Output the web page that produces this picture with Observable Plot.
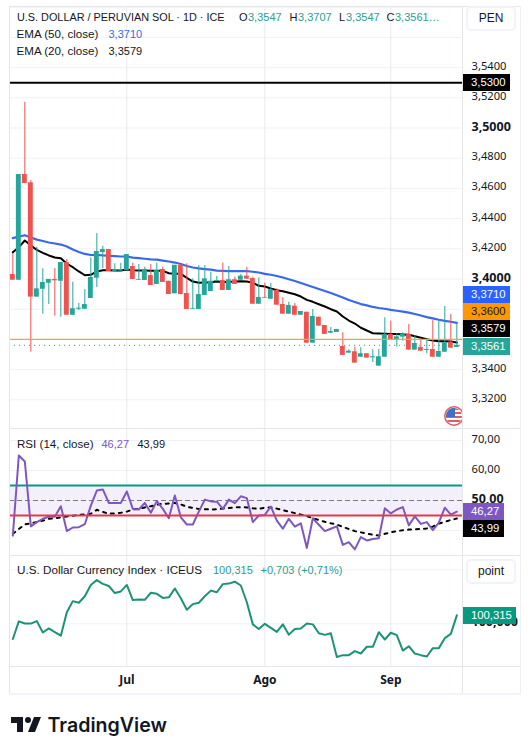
<!DOCTYPE html>
<html>
<head>
<meta charset="utf-8">
<script src="https://cdn.jsdelivr.net/npm/d3@7"></script>
<script src="https://cdn.jsdelivr.net/npm/@observablehq/plot@0.6"></script>
<style>
html,body{margin:0;padding:0;background:#fff;overflow:hidden}
#chart{position:relative;width:530px;height:741px;overflow:hidden;font-family:"Liberation Sans",sans-serif;color:#131722}
#chart svg.pane,#chart>figure{position:absolute;left:0;margin:0}
.t{position:absolute;white-space:pre;line-height:14px;font-size:11.6px}
.tag{position:absolute;left:463px;color:#fff;font-size:11.3px;line-height:17px;height:17px;padding-left:8px;box-sizing:border-box}
.ln{position:absolute;background:#e4e6ec}
.btn{position:absolute;left:466px;width:50px;height:25px;border:2px solid #f0f3fa;border-radius:5px;box-sizing:border-box;text-align:center;font-size:12px;line-height:21px;background:#fff}
</style>
</head>
<body>
<div id="chart"></div>
<script>
const opens=[3.4030,3.3992,3.4692,3.4637,3.3880,3.3932,3.3972,3.3997,3.3985,3.4109,3.3760,3.3800,3.3800,3.3871,3.4005,3.4175,3.4195,3.4050,3.4052,3.4056,3.4083,3.3992,3.3990,3.4023,3.3964,3.4063,3.3985,3.3902,3.4091,3.3904,3.3798,3.3798,3.3891,3.3917,3.3983,3.3990,3.3924,3.3995,3.3992,3.4019,3.4003,3.3833,3.3878,3.3866,3.3924,3.3831,3.3767,3.3820,3.3760,3.3780,3.3575,3.3747,3.3692,3.3641,3.3646,3.3553,3.3509,3.3518,3.3482,3.3505,3.3478,3.3423,3.3482,3.3633,3.3599,3.3615,3.3633,3.3529,3.3547,3.3527,3.3533,3.3482,3.3515,3.3582,3.3547];
const closes=[3.3992,3.4692,3.4632,3.3880,3.3935,3.3977,3.3997,3.3988,3.4109,3.3760,3.3803,3.3807,3.3831,3.4010,3.4182,3.4195,3.4050,3.4056,3.4058,3.4162,3.3997,3.3997,3.4061,3.3957,3.4056,3.3977,3.3897,3.4091,3.3897,3.3798,3.3803,3.3897,3.4001,3.3985,3.3990,3.3924,3.3995,3.3964,3.4019,3.3999,3.3833,3.3878,3.3873,3.3929,3.3827,3.3767,3.3825,3.3760,3.3785,3.3575,3.3752,3.3688,3.3633,3.3652,3.3666,3.3494,3.3522,3.3443,3.3505,3.3476,3.3485,3.3485,3.3633,3.3599,3.3617,3.3633,3.3529,3.3573,3.3522,3.3533,3.3482,3.3520,3.3578,3.3542,3.3561];
const highs=[3.4169,3.4692,3.5170,3.4652,3.4211,3.4068,3.3997,3.4070,3.4109,3.4129,3.3979,3.3838,3.3930,3.4140,3.4301,3.4217,3.4195,3.4101,3.4103,3.4162,3.4105,3.4096,3.4078,3.4096,3.4105,3.4078,3.3985,3.4091,3.4095,3.4101,3.4001,3.4089,3.4089,3.4045,3.4017,3.4105,3.4083,3.4012,3.4030,3.4078,3.4012,3.4008,3.3972,3.3972,3.3935,3.3876,3.3846,3.3838,3.3785,3.3780,3.3798,3.3747,3.3692,3.3679,3.3666,3.3644,3.3531,3.3549,3.3545,3.3505,3.3531,3.3533,3.3743,3.3721,3.3639,3.3644,3.3699,3.3624,3.3604,3.3593,3.3725,3.3721,3.3818,3.3765,3.3707];
const lows=[3.3992,3.3990,3.4632,3.3515,3.3880,3.3767,3.3831,3.3754,3.3747,3.3760,3.3760,3.3791,3.3800,3.3871,3.3944,3.4068,3.4050,3.4050,3.4052,3.4056,3.3997,3.3992,3.3990,3.3957,3.3964,3.3977,3.3897,3.3902,3.3897,3.3798,3.3798,3.3798,3.3891,3.3917,3.3983,3.3924,3.3924,3.3964,3.3992,3.3999,3.3833,3.3833,3.3873,3.3866,3.3827,3.3767,3.3767,3.3760,3.3760,3.3575,3.3575,3.3688,3.3633,3.3641,3.3646,3.3494,3.3509,3.3443,3.3482,3.3476,3.3447,3.3423,3.3482,3.3599,3.3549,3.3588,3.3529,3.3529,3.3522,3.3505,3.3482,3.3482,3.3515,3.3542,3.3547];
const ema50=[3.4271,3.4281,3.4290,3.4275,3.4261,3.4252,3.4242,3.4235,3.4228,3.4215,3.4195,3.4179,3.4166,3.4159,3.4159,3.4156,3.4154,3.4152,3.4149,3.4149,3.4142,3.4138,3.4134,3.4130,3.4128,3.4122,3.4116,3.4109,3.4099,3.4086,3.4076,3.4070,3.4066,3.4062,3.4056,3.4054,3.4052,3.4052,3.4053,3.4052,3.4048,3.4043,3.4034,3.4028,3.4020,3.4010,3.3998,3.3987,3.3974,3.3960,3.3947,3.3934,3.3921,3.3907,3.3893,3.3878,3.3861,3.3848,3.3834,3.3825,3.3815,3.3808,3.3803,3.3796,3.3790,3.3784,3.3777,3.3768,3.3758,3.3748,3.3739,3.3730,3.3723,3.3717,3.3710];
const ema20=[3.4177,3.4211,3.4255,3.4222,3.4193,3.4173,3.4156,3.4142,3.4138,3.4101,3.4078,3.4050,3.4025,3.4028,3.4050,3.4058,3.4058,3.4056,3.4056,3.4063,3.4058,3.4056,3.4056,3.4054,3.4054,3.4054,3.4038,3.4034,3.4034,3.4008,3.3983,3.3975,3.3977,3.3979,3.3983,3.3981,3.3981,3.3983,3.3985,3.3983,3.3975,3.3955,3.3950,3.3937,3.3926,3.3919,3.3909,3.3899,3.3884,3.3862,3.3849,3.3833,3.3818,3.3800,3.3785,3.3752,3.3725,3.3705,3.3677,3.3659,3.3641,3.3639,3.3637,3.3635,3.3635,3.3633,3.3631,3.3621,3.3611,3.3601,3.3593,3.3588,3.3588,3.3586,3.3579];
const rsi=[38.3,65,63,41.4,42.8,43.9,44.6,44.6,48.1,39.8,41,41.1,42.1,48.3,53.3,53.7,49.2,49.2,49.2,53,47.2,47,49.2,45.9,49.8,47.2,44.1,51.7,44.4,42,42,46.3,50.3,49.7,49.6,47.2,50.3,49.1,51.4,50.8,42.8,45,45.2,48,43.3,40.6,43.9,41.3,42.4,34.2,44.1,41.9,39.8,40.6,41.4,35.2,36.1,33.7,37.8,36.7,37.2,37.4,47.4,45.7,47,47.8,41.7,44.7,42.2,42.8,40.1,42.6,47.6,45.3,46.27];
const rsiMa=[38.9,40.5,42,42.4,42.8,43.3,43.9,44.1,44.4,44.7,44.9,45.2,45.4,45.6,46.9,46.2,45.6,45.7,45.9,46.3,47,47.2,47.7,48.1,48.6,48.9,49,49.2,48.7,47.9,47.5,47.2,47.1,47,47.1,47.3,47.5,47.7,47.8,47.7,47.4,47.2,47.6,47.7,47.3,46.8,46.3,45.8,45.3,44.8,44.1,43.5,42.9,42.4,42,41.2,40.5,39.8,39.4,38.9,38.6,38.3,38.9,39.4,39.8,40.1,40.3,40.4,40.5,40.7,41.3,42.3,42.9,43.5,43.99];
const dxy=[99.44,100.09,100.01,100.01,100.10,99.68,99.83,99.69,99.56,100.43,100.84,100.78,101.02,101.44,101.62,101.48,101.40,101.14,101.20,101.44,100.88,100.90,100.89,101.15,101.11,100.96,100.98,101.31,100.95,100.52,100.73,100.78,101.02,101.23,101.17,101.47,101.49,101.56,101.42,100.80,99.98,99.81,100.00,99.85,99.70,99.98,99.60,99.81,99.83,100.01,99.98,99.65,99.59,99.65,98.77,98.84,98.84,98.99,98.90,99.15,99.15,99.69,99.42,99.67,99.58,99.01,99.17,98.90,98.84,98.79,99.10,99.10,99.47,99.63,100.315];
const monthIndex=[19,42,63];
const monthLabels=["Jul","Ago","Sep"];
const priceTicks=[3.54,3.52,3.48,3.46,3.44,3.42,3.34,3.32];
const priceTicksBold=[3.5,3.4];
const priceGrid=[3.58,3.56,3.54,3.52,3.5,3.48,3.46,3.44,3.42,3.4,3.38,3.36,3.34,3.32];
const resistance=3.53, support=3.36, lastClose=3.3561;
const rsiTicks=[70,60];
const rsiTicksBold=[50];
const rsiGrid=[70,60,40];
const rsiUpper=55, rsiMid=50, rsiLower=45;
const dxyGrid=[102,100];
const dxyTicksBold=[100];

const comma=(d,n)=>d.toFixed(n).replace(".",",");
const idx=d3.range(opens.length);
const up=idx.filter(i=>closes[i]>=opens[i]);
const down=idx.filter(i=>closes[i]<opens[i]);
const xDomain=[-0.555,74.945];
const GREEN="#26a69a",RED="#ef5350",GRID="#eff1f5",VGRID="#e8eaf0",BLUE="#3a68ea",PURPLE="#7e57c2";
const chart=document.getElementById("chart");
const common={width:530,marginLeft:9,marginRight:68,marginTop:0,marginBottom:0,style:{background:"transparent",overflow:"visible"}};
const axisOpts={anchor:"right",tickSize:0,tickPadding:9,label:null,fontSize:11.2,stroke:null,fill:"#131722"};
function place(svg,top){svg.classList.add("pane");svg.style.position="absolute";svg.style.left="0";svg.style.top=top+"px";chart.appendChild(svg);}
const wick=(ids,color)=>Plot.ruleX(ids,{x:i=>i,y1:i=>lows[i],y2:i=>highs[i],stroke:color,strokeWidth:1});
const body=(ids,color)=>Plot.rect(ids,{x1:i=>i-0.41,x2:i=>i+0.41,y1:i=>Math.min(opens[i],closes[i]),y2:i=>Math.max(opens[i],closes[i]),fill:color});

// price pane
place(Plot.plot({...common,height:428,marginTop:6.7,
  x:{domain:xDomain,axis:null},
  y:{domain:[3.301,3.58],axis:null},
  marks:[
    Plot.gridY(priceGrid,{stroke:GRID,strokeOpacity:1}),
    Plot.gridX(monthIndex,{stroke:VGRID,strokeOpacity:1}),
    Plot.axisY(priceTicks,{...axisOpts,dy:-1.5,tickFormat:d=>comma(d,4)}),
    Plot.axisY(priceTicksBold,{...axisOpts,dy:-1.5,fontSize:12.5,fontWeight:"bold",tickFormat:d=>comma(d,4)}),
    Plot.line(idx,{x:i=>i,y:i=>ema50[i],stroke:BLUE,strokeWidth:2.2,curve:"linear"}),
    Plot.line(idx,{x:i=>i,y:i=>ema20[i],stroke:"#000",strokeWidth:2,curve:"linear"}),
    wick(up,GREEN),wick(down,RED),body(up,GREEN),body(down,RED),
    Plot.ruleY([resistance],{stroke:"#000",strokeWidth:2}),
    Plot.ruleY([support],{stroke:"#e8a93b",strokeWidth:1.2}),
    Plot.ruleY([lastClose],{stroke:GREEN,strokeWidth:1,strokeDasharray:"1,4"})
  ]}),0);

// RSI pane
place(Plot.plot({...common,height:127,
  x:{domain:xDomain,axis:null},
  y:{domain:[31.67,74],axis:null},
  marks:[
    Plot.gridY(rsiGrid,{stroke:GRID,strokeOpacity:1}),
    Plot.rect([0],{x1:xDomain[0],x2:xDomain[1],y1:rsiLower,y2:rsiUpper,fill:"#f3f0fc"}),
    Plot.gridX(monthIndex,{stroke:VGRID,strokeOpacity:1}),
    Plot.axisY(rsiTicks,{...axisOpts,dy:-1.5,tickFormat:d=>comma(d,2)}),
    Plot.axisY(rsiTicksBold,{...axisOpts,dy:-1.5,fontSize:12.5,fontWeight:"bold",tickFormat:d=>comma(d,2)}),
    Plot.ruleY([rsiMid],{stroke:"#787b86",strokeWidth:1,strokeDasharray:"5,3"}),
    Plot.ruleY([rsiUpper],{stroke:"#089981",strokeWidth:2}),
    Plot.line(idx,{x:i=>i,y:i=>rsiMa[i],stroke:"#000",strokeWidth:2,strokeDasharray:"3,5"}),
    Plot.line(idx,{x:i=>i,y:i=>rsi[i],stroke:PURPLE,strokeWidth:2}),
    Plot.ruleY([rsiLower],{stroke:"#e5364f",strokeWidth:2})
  ]}),428);

// Dollar index pane
place(Plot.plot({...common,height:138,marginBottom:27,
  x:{domain:xDomain,axis:null},
  y:{domain:[98.42,102.53],axis:null},
  marks:[
    Plot.gridY(dxyGrid,{stroke:GRID,strokeOpacity:1}),
    Plot.gridX(monthIndex,{stroke:VGRID,strokeOpacity:1}),
    Plot.axisY(dxyTicksBold,{...axisOpts,dy:-2,fontSize:12.5,fontWeight:"bold",tickFormat:d=>comma(d,3)}),
    Plot.line(idx,{x:i=>i,y:i=>dxy[i],stroke:"#1e9278",strokeWidth:2}),
    Plot.axisX(monthIndex,{anchor:"bottom",tickSize:0,tickPadding:9,label:null,fontSize:12,fontWeight:"bold",stroke:null,fill:"#131722",tickFormat:(d,k)=>monthLabels[monthIndex.indexOf(d)]})
  ]}),555);

// frame
const ln=(l,t,w,h,c)=>{const d=document.createElement("div");d.className="ln";d.style.cssText=`left:${l}px;top:${t}px;width:${w}px;height:${h}px;`+(c?`background:${c}`:"");chart.appendChild(d);};
ln(9,6,511,1);ln(9,6,1,688);ln(520,6,1,688,"#eef0f5");ln(9,693,512,2,"#f0f3fa");
ln(462,6,1,687);ln(9,428,511,1);ln(9,555,511,1);ln(9,666,511,1);

// header texts
const t=(x,y,s,color,extra)=>{const d=document.createElement("div");d.className="t";d.textContent=s;d.style.left=x+"px";d.style.top=(y-7)+"px";if(color)d.style.color=color;if(extra)Object.assign(d.style,extra);chart.appendChild(d);return d;};
const TEAL="#2a9d8f";
t(17,16.5,"U.S. DOLLAR / PERUVIAN SOL · 1D · ICE",null,{fontSize:"10.85px"});
t(239,16.5,"O",null,{fontSize:"11px"});t(248,16.5,"3,3547",TEAL,{fontSize:"11px"});
t(289.5,16.5,"H",null,{fontSize:"11px"});t(298,16.5,"3,3707",TEAL,{fontSize:"11px"});
t(339,16.5,"L",null,{fontSize:"11px"});t(346,16.5,"3,3547",TEAL,{fontSize:"11px"});
t(386.5,16.5,"C",null,{fontSize:"11px"});t(395,16.5,"3,3561…",TEAL,{fontSize:"11px"});
t(16.5,33.5,"EMA (50, close)",null);t(108.5,33.5,"3,3710",BLUE,{fontSize:"11px"});
t(16.5,50.5,"EMA (20, close)",null);t(108.5,50.5,"3,3579",null,{fontSize:"11px"});
t(17,444,"RSI (14, close)",null);t(101.5,444,"46,27",PURPLE,{fontSize:"11px"});t(137.5,444,"43,99",null,{fontSize:"11px"});
t(17,570,"U.S. Dollar Currency Index · ICEUS",null,{fontSize:"11.7px"});t(213,570,"100,315",TEAL,{fontSize:"11px"});t(260.5,570,"+0,703 (+0,71%)",TEAL,{fontSize:"11px"});

// price tags
const tag=(top,w,s,bg,fg)=>{const d=document.createElement("div");d.className="tag";d.textContent=s;d.style.top=top+"px";d.style.width=w+"px";d.style.background=bg;if(fg)d.style.color=fg;chart.appendChild(d);};
tag(74,47,comma(resistance,4),"#000");
tag(286,47,comma(ema50[74],4),"#2962ff");
tag(303,47,comma(support,4),"#ff9800","#131722");
tag(320,47,comma(ema20[74],4),"#000");
tag(337.5,47,comma(lastClose,4),GREEN);
tag(503,41,"46,27",PURPLE);
tag(520,41,"43,99","#000");
tag(607,53,"100,315","#089981");

// scale buttons
const btn=(top,s)=>{const d=document.createElement("div");d.className="btn";d.textContent=s;d.style.top=top+"px";chart.appendChild(d);};
btn(6,"PEN");btn(559,"point");

// flag badge and logo
const art=document.createElement("div");
art.innerHTML=`<div style="position:absolute;left:444px;top:405px;width:18px;height:22px;overflow:hidden"><svg width="22" height="22" viewBox="0 0 22 22"><defs><clipPath id="fc"><circle cx="10" cy="11" r="8"/></clipPath></defs><circle cx="10" cy="11" r="10" fill="#fff"/><circle cx="10" cy="11" r="9.2" fill="none" stroke="#e25c62" stroke-width="1.6"/><g clip-path="url(#fc)"><rect width="22" height="22" fill="#fff"/><rect y="3" width="22" height="2" fill="#e25c62"/><rect y="7" width="22" height="2" fill="#e25c62"/><rect y="11" width="22" height="2" fill="#e25c62"/><rect y="15" width="22" height="2" fill="#e25c62"/><rect x="0" y="3" width="11" height="9" fill="#3f6fc6"/></g></svg></div>
<svg style="position:absolute;left:9px;top:710.5px" width="36" height="28" viewBox="0 0 36 28"><path fill="#131722" d="M14 6H2v6h6v9h6V6Zm12 15h-7l6-15h7l-6 15Zm-7-9a3 3 0 1 0 0-6 3 3 0 0 0 0 6Z"/></svg>
<div style="position:absolute;left:47.5px;top:712px;font:600 19.6px/26px Inter,sans-serif;color:#131722;white-space:pre">TradingView</div>`;
chart.appendChild(art);
</script>
</body>
</html>
